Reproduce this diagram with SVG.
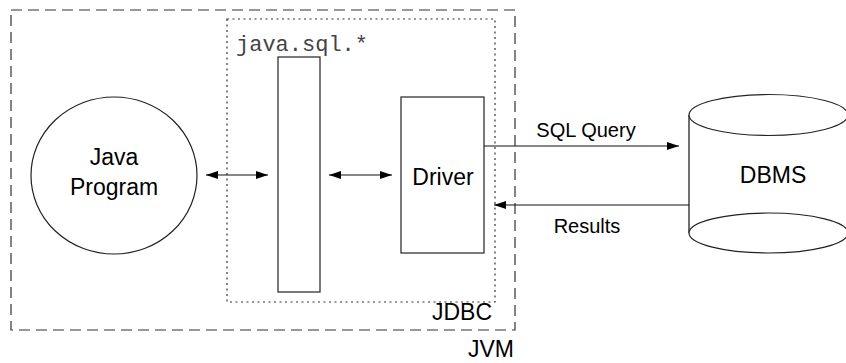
<svg xmlns="http://www.w3.org/2000/svg" width="846" height="363" viewBox="0 0 846 363">
<defs>
<style>
.ln{stroke:#111;stroke-width:1.2;fill:none}
.sh{stroke:#222;stroke-width:1.2;fill:#fff}
.t{font-family:"Liberation Sans",Arial,sans-serif;font-size:23px;fill:#000;text-anchor:middle}
.lb{font-family:"Liberation Sans",Arial,sans-serif;font-size:20px;fill:#000;text-anchor:middle}
.mono{font-family:"Liberation Mono","Courier New",monospace;font-size:22px;fill:#444}
</style>
<marker id="ah" viewBox="0 0 12 8" refX="12" refY="4" markerWidth="12" markerHeight="8" markerUnits="userSpaceOnUse" orient="auto-start-reverse">
<path d="M0,0 L12,4 L0,8 z" fill="#000"/>
</marker>
</defs>
<rect width="846" height="363" fill="#fff"/>
<g id="jvm">
<rect x="11" y="10" width="504" height="320" fill="none" stroke="#333" stroke-width="1.2" stroke-dasharray="11,6"/>
<text class="t" x="491" y="357">JVM</text>
</g>
<g id="jdbc">
<rect x="227" y="19" width="268" height="283" fill="none" stroke="#333" stroke-width="1.2" stroke-dasharray="2,3.5"/>
<text class="t" x="462" y="320">JDBC</text>
<text class="mono" x="236" y="51">java.sql.*</text>
</g>
<g id="java-program">
<ellipse cx="114" cy="175.5" rx="83" ry="78.5" class="sh" stroke="#444"/>
<text class="t" x="114" y="165">Java</text>
<text class="t" x="114" y="195">Program</text>
</g>
<g id="java-sql">
<rect x="278" y="57" width="42" height="235" class="sh"/>
</g>
<g id="driver">
<rect x="401" y="97" width="83" height="156" class="sh"/>
<text class="t" x="443" y="185">Driver</text>
</g>
<g id="dbms">
<path d="M689,115 L689,233 M848,115 L848,233" class="ln"/>
<ellipse cx="768.5" cy="115" rx="79.5" ry="20.5" class="sh"/>
<ellipse cx="768.5" cy="233" rx="79.5" ry="20" class="sh"/>
<text class="t" x="773" y="183">DBMS</text>
</g>
<g id="connectors">
<line x1="206" y1="175" x2="268" y2="175" class="ln" marker-start="url(#ah)" marker-end="url(#ah)"/>
<line x1="329" y1="175" x2="392" y2="175" class="ln" marker-start="url(#ah)" marker-end="url(#ah)"/>
<line x1="484" y1="146" x2="679" y2="146" class="ln" marker-end="url(#ah)"/>
<line x1="689" y1="205" x2="494" y2="205" class="ln" marker-end="url(#ah)"/>
<text class="lb" x="586" y="137">SQL Query</text>
<text class="lb" x="587" y="233">Results</text>
</g>
</svg>
